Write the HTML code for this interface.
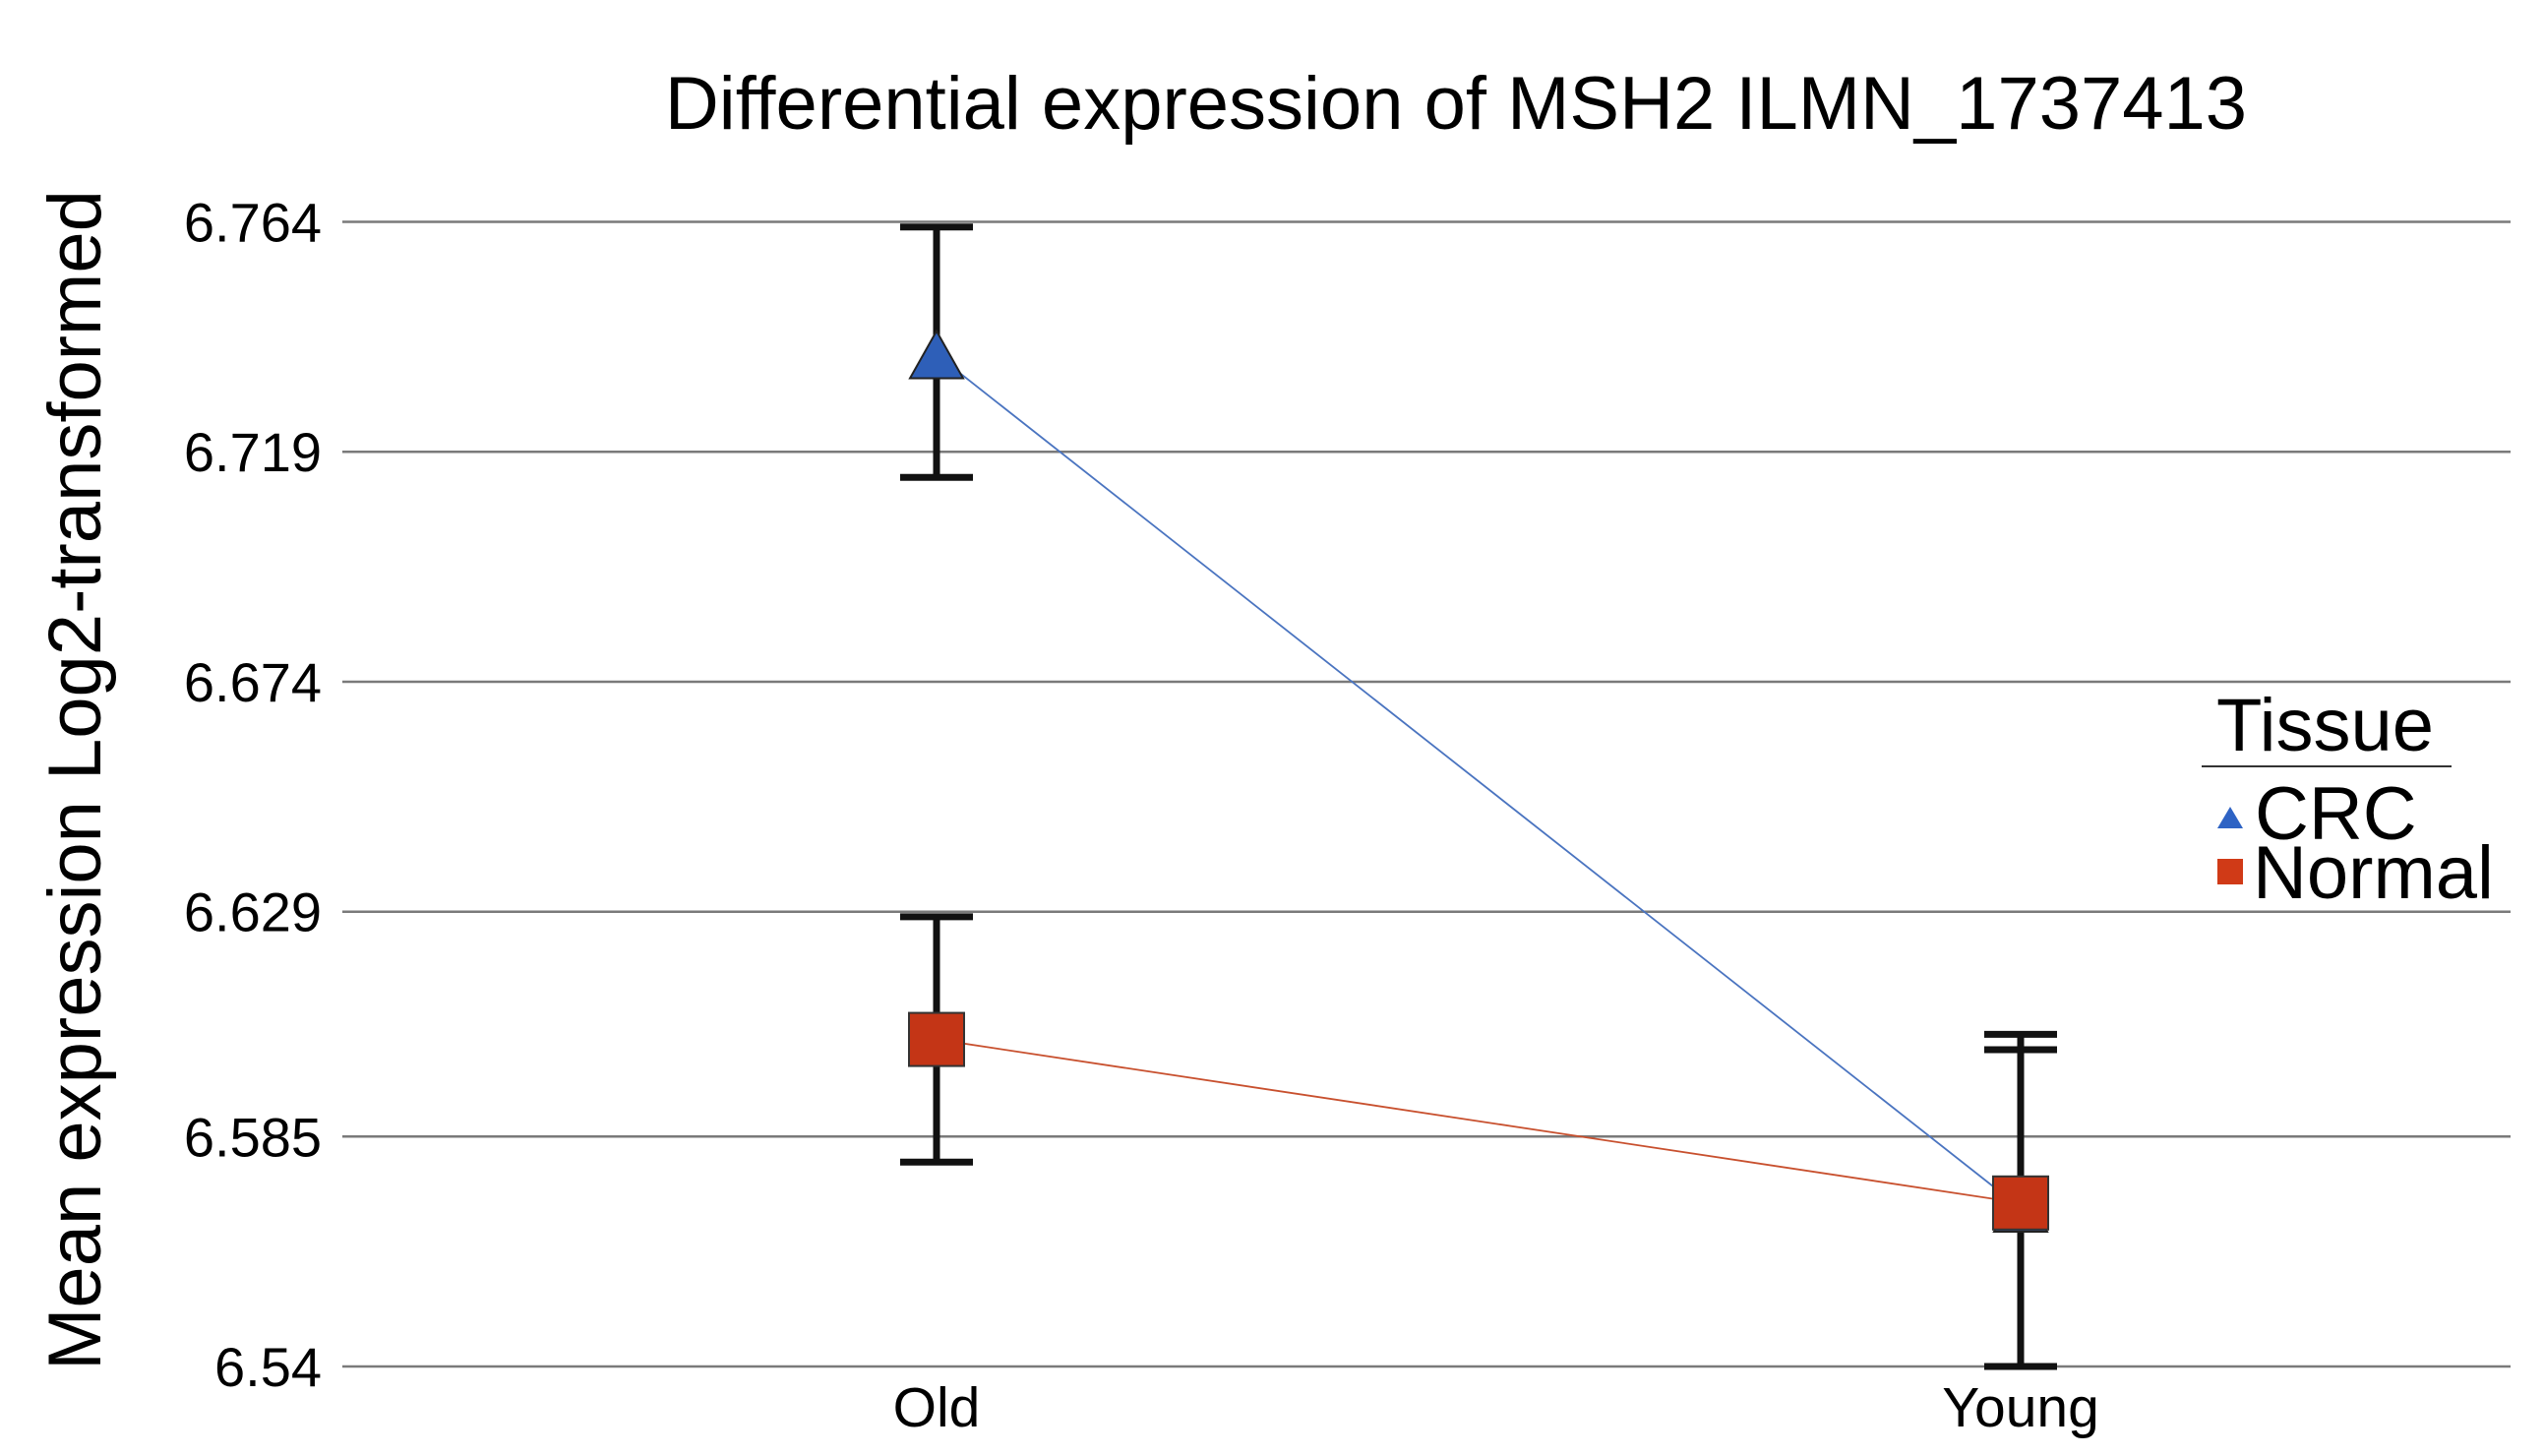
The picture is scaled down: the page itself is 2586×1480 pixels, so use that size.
<!DOCTYPE html>
<html><head><meta charset="utf-8"><style>
html,body{margin:0;padding:0;background:#fff;}
svg{display:block;font-family:"Liberation Sans",Arial,sans-serif;}
</style></head><body>
<svg id="chart" width="2586" height="1480" viewBox="0 0 2586 1480">
<text x="1480" y="131" font-size="76" text-anchor="middle">Differential expression of MSH2 ILMN_1737413</text>
<text transform="translate(102,793) rotate(-90)" font-size="76" text-anchor="middle">Mean expression Log2-transformed</text>
<g id="grid"></g>
<g id="yticks"></g>
<g id="xticks"></g>
<g id="series"></g>
<g>
<text x="2253" y="763" font-size="76">Tissue</text>
<line x1="2238" y1="779" x2="2492" y2="779" stroke="#333" stroke-width="2"/>
<polygon points="2254,842 2267,820 2280,842" fill="#2e63c4"/>
<text x="2292" y="853" font-size="76">CRC</text>
<rect x="2254" y="873" width="26" height="26" fill="#d03a17"/>
<text x="2290" y="913" font-size="76">Normal</text>
</g>
</svg>
<script>
const categories = ["Old", "Young"];
const yTicks = [6.54, 6.585, 6.629, 6.674, 6.719, 6.764];
const yTickLabels = ["6.54", "6.585", "6.629", "6.674", "6.719", "6.764"];
const crcMean = [6.738, 6.571];
const crcLow = [6.714, 6.540];
const crcHigh = [6.763, 6.605];
const normalMean = [6.604, 6.572];
const normalLow = [6.580, 6.540];
const normalHigh = [6.628, 6.602];

const NS = "http://www.w3.org/2000/svg";
const y0 = 1389, y1 = 225.5, vMin = 6.54, vMax = 6.764;
const plotL = 348, plotR = 2552;
function yScale(v){ return y0 + (v - vMin) / (vMax - vMin) * (y1 - y0); }
const xPos = [952, 2054];
function xScale(i){ return xPos[0] + i * (xPos[1] - xPos[0]); }
function mk(tag, attrs, parent){ const e = document.createElementNS(NS, tag); for (const k in attrs) e.setAttribute(k, attrs[k]); parent.appendChild(e); return e; }

const grid = document.getElementById('grid'), yt = document.getElementById('yticks'), xt = document.getElementById('xticks'), ser = document.getElementById('series');
yTicks.forEach((v, i) => {
  const l = mk('line', {x1: plotL, x2: plotR, y1: yScale(v), y2: yScale(v), stroke: '#7a7a7a', 'stroke-width': 2.5}, grid);
  
  
  const t = mk('text', {x: 327, y: yScale(v) + 20, 'font-size': 56, 'text-anchor': 'end'}, yt);
  t.textContent = yTickLabels[i];
  
  
});
categories.forEach((c, i) => {
  const t = mk('text', {x: xScale(i), y: 1450, 'font-size': 57, 'text-anchor': 'middle'}, xt);
  t.textContent = c;
  
  
});

function errBar(i, lo, hi){
  const g = mk('g', {stroke: '#111', 'stroke-width': 7}, ser);
  
  
  const x = xScale(i);
  mk('line', {x1: x, x2: x, y1: yScale(lo), y2: yScale(hi)}, g);
  mk('line', {x1: x - 37, x2: x + 37, y1: yScale(lo), y2: yScale(lo)}, g);
  mk('line', {x1: x - 37, x2: x + 37, y1: yScale(hi), y2: yScale(hi)}, g);
}
categories.forEach((c, i) => { errBar(i, crcLow[i], crcHigh[i]); errBar(i, normalLow[i], normalHigh[i]); });

const crcLine = mk('polyline', {points: crcMean.map((v, i) => xScale(i) + ',' + yScale(v)).join(' '), fill: 'none', stroke: '#4a74c0', 'stroke-width': 1.8}, ser);


const nLine = mk('polyline', {points: normalMean.map((v, i) => xScale(i) + ',' + yScale(v)).join(' '), fill: 'none', stroke: '#c8502e', 'stroke-width': 1.8}, ser);



crcMean.forEach((v, i) => {
  const x = xScale(i), y = yScale(v);
  const p = mk('polygon', {points: `${x-27},${y+24} ${x},${y-24} ${x+27},${y+24}`, fill: '#2e5fb8', stroke: '#222', 'stroke-width': 2}, ser);
  
  
});
normalMean.forEach((v, i) => {
  const x = xScale(i), y = yScale(v);
  const r = mk('rect', {x: x - 28, y: y - 27, width: 56, height: 54, fill: '#c43516', stroke: '#333', 'stroke-width': 2}, ser);
  
  
});
</script>
</body></html>
